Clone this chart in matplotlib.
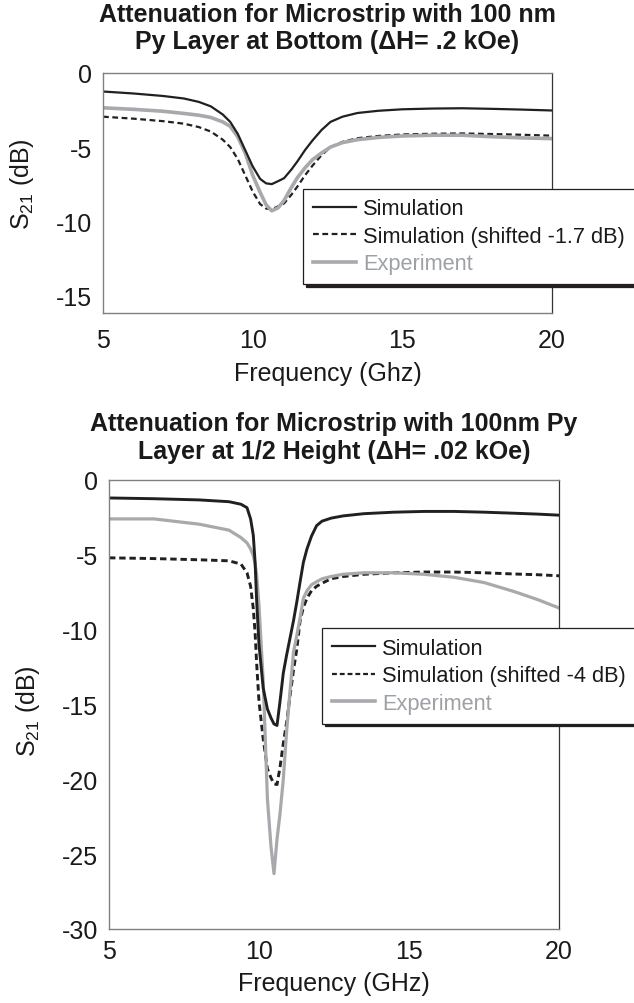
import matplotlib
matplotlib.use("Agg")
import matplotlib.pyplot as plt

plt.rcParams['font.family'] = ['Liberation Sans', 'DejaVu Sans']
plt.rcParams['mathtext.default'] = 'regular'
plt.rcParams['axes.unicode_minus'] = False

BLACK = '#231f20'
GRAY = '#a7a9ac'
SPINE = '#808080'

# top chart: Py layer at bottom
f_top = [5.0, 6.0, 7.0, 7.7, 8.2, 8.6, 9.0, 9.25, 9.5, 9.75, 10.0, 10.25, 10.45, 10.64,
         10.85, 11.05, 11.3, 11.5, 11.75, 12.0, 12.3, 12.6, 13.0, 13.5, 14.2, 15.0,
         16.0, 17.0, 18.0, 19.0, 20.0]
sim_top = [-1.25, -1.38, -1.55, -1.72, -1.95, -2.25, -2.8, -3.3, -4.1, -5.2, -6.3, -7.15,
           -7.45, -7.5, -7.3, -7.1, -6.5, -5.95, -5.2, -4.55, -3.85, -3.3, -2.95, -2.7,
           -2.55, -2.45, -2.4, -2.38, -2.42, -2.47, -2.53]
shift_top = [-2.95, -3.08, -3.25, -3.42, -3.65, -3.95, -4.5, -5.0, -5.8, -6.9, -8.0, -8.85,
             -9.15, -9.2, -9.0, -8.8, -8.2, -7.65, -6.9, -6.25, -5.55, -5.0, -4.65, -4.4,
             -4.25, -4.15, -4.1, -4.08, -4.12, -4.17, -4.23]
exp_top = [-2.35, -2.45, -2.58, -2.73, -2.85, -3.0, -3.3, -3.6, -4.3, -5.4, -6.9, -8.06,
           -8.9, -9.3, -9.1, -8.6, -7.7, -7.05, -6.4, -5.85, -5.4, -5.0, -4.7, -4.5,
           -4.35, -4.25, -4.2, -4.2, -4.3, -4.38, -4.43]

# bottom chart: Py layer at 1/2 height
f_bot = [5.0, 6.5, 8.0, 9.0, 9.4, 9.6, 9.72, 9.81, 9.87, 9.92, 10.0, 10.14, 10.28, 10.4,
         10.5, 10.6, 10.7, 10.81, 10.92, 11.03, 11.15, 11.26, 11.37, 11.48, 11.6, 11.75,
         11.92, 12.1, 12.4, 12.8, 13.5, 14.5, 15.5, 16.5, 17.5, 18.5, 19.3, 20.0]
sim_bot = [-1.2, -1.25, -1.33, -1.45, -1.62, -1.85, -2.6, -3.7, -5.5, -8.0, -11.0, -13.9,
           -15.3, -15.9, -16.3, -16.4, -14.8, -12.9, -11.7, -10.6, -9.4, -8.15, -6.8, -5.5,
           -4.6, -3.75, -3.05, -2.75, -2.55, -2.4, -2.25, -2.15, -2.1, -2.1, -2.15, -2.22,
           -2.28, -2.35]
shift_bot = [-5.2, -5.25, -5.33, -5.4, -5.62, -6.2, -7.1, -8.6, -10.2, -12.2, -14.8, -17.3,
             -19.3, -19.9, -20.3, -20.35, -19.2, -17.6, -16.2, -14.5, -12.7, -11.3, -9.4,
             -8.5, -7.9, -7.4, -7.1, -6.9, -6.6, -6.45, -6.3, -6.2, -6.15, -6.15, -6.2,
             -6.28, -6.33, -6.4]
exp_bot = [-2.6, -2.6, -2.95, -3.35, -3.85, -4.2, -4.6, -5.06, -5.6, -6.3, -8.4, -13.4,
           -21.3, -24.5, -26.3, -24.0, -22.3, -20.0, -16.8, -14.2, -11.5, -10.4, -9.2,
           -7.9, -7.4, -7.0, -6.8, -6.6, -6.45, -6.3, -6.2, -6.2, -6.3, -6.5, -6.85,
           -7.45, -8.0, -8.55]

xticks = [5, 10, 15, 20]
yticks_top = [0, -5, -10, -15]
yticks_bot = [0, -5, -10, -15, -20, -25, -30]

W, H = 634, 1004
fig = plt.figure(figsize=(W / 100, H / 100), dpi=100)

def px_axes(l, t, r, b):
    return fig.add_axes([l / W, 1 - b / H, (r - l) / W, (b - t) / H])

def style(ax, ylim, yticks, xpad, xlab, ylab_y, xlab_y):
    ax.set_xlim(5, 20)
    ax.set_ylim(*ylim)
    ax.set_xticks(xticks)
    ax.set_yticks(yticks)
    ax.tick_params(axis='both', length=0, labelsize=18, colors='#1a1a1a')
    ax.tick_params(axis='x', pad=xpad)
    ax.tick_params(axis='y', pad=8)
    for s in ['left', 'top', 'bottom']:
        ax.spines[s].set_color(SPINE)
        ax.spines[s].set_linewidth(1.0)
    ax.spines['right'].set_color('#333333')
    ax.spines['right'].set_linewidth(0.9)
    ax.set_xlabel(xlab, fontsize=18, color='#1a1a1a')
    ax.xaxis.set_label_coords(0.5, xlab_y)
    ax.set_ylabel('S$_{21}$ (dB)', fontsize=18, color='#1a1a1a')
    ax.yaxis.set_label_coords(-0.15, ylab_y)

def legend(ax, x, y, labels, dash):
    h1, = ax.plot([], [], color=BLACK, lw=1.6)
    h2, = ax.plot([], [], color=BLACK, lw=1.6, dashes=dash)
    h3, = ax.plot([], [], color=GRAY, lw=2.6)
    leg = ax.legend([h1, h2, h3], labels, loc='upper left',
                    bbox_to_anchor=(x / W, 1 - y / H), bbox_transform=fig.transFigure,
                    borderaxespad=0, fontsize=15.7, frameon=True, fancybox=False,
                    framealpha=1, edgecolor=BLACK, handlelength=2.0, handletextpad=0.3,
                    labelspacing=0.3, borderpad=0.45,
                    shadow={'facecolor': BLACK, 'edgecolor': BLACK, 'alpha': 1})
    leg.get_frame().set_linewidth(0.9)
    leg.get_texts()[2].set_color('#9da0a4')
    for t in leg.get_texts()[:2]:
        t.set_color('#1a1a1a')

# top chart
ax1 = px_axes(103, 74, 552, 314)
ax1.plot(f_top, shift_top, color=BLACK, lw=1.6, dashes=(2.6, 1.6))
ax1.plot(f_top, exp_top, color=GRAY, lw=2.6)
ax1.plot(f_top, sim_top, color=BLACK, lw=1.6)
style(ax1, (-16.2, 0), yticks_top, 11, 'Frequency (Ghz)', 0.54, -0.2)
legend(ax1, 303, 189.5, ['Simulation', 'Simulation (shifted -1.7 dB)', 'Experiment'], (2.6, 1.6))
fig.text(327.5 / W, 1 - 28.6 / H,
         'Attenuation for Microstrip with 100 nm\nPy Layer at Bottom (\u0394H= .2 kOe)',
         ha='center', va='center', fontsize=18, fontweight='bold', color='#1a1a1a',
         linespacing=1.2)

# bottom chart
ax2 = px_axes(109, 481, 559, 930)
ax2.plot(f_bot, shift_bot, color=BLACK, lw=2.1, dashes=(2.2, 1.3))
ax2.plot(f_bot, exp_bot, color=GRAY, lw=2.3)
ax2.plot(f_bot, sim_bot, color=BLACK, lw=2.1)
style(ax2, (-30, 0), yticks_bot, 7, 'Frequency (GHz)', 0.488, -0.094)
legend(ax2, 322, 629, ['Simulation', 'Simulation (shifted -4 dB)', 'Experiment'], (2.2, 1.3))
fig.text(334 / W, 1 - 438 / H,
         'Attenuation for Microstrip with 100nm Py\nLayer at 1/2 Height (\u0394H= .02 kOe)',
         ha='center', va='center', fontsize=18, fontweight='bold', color='#1a1a1a',
         linespacing=1.2)

fig.savefig('out.png', dpi=100)
